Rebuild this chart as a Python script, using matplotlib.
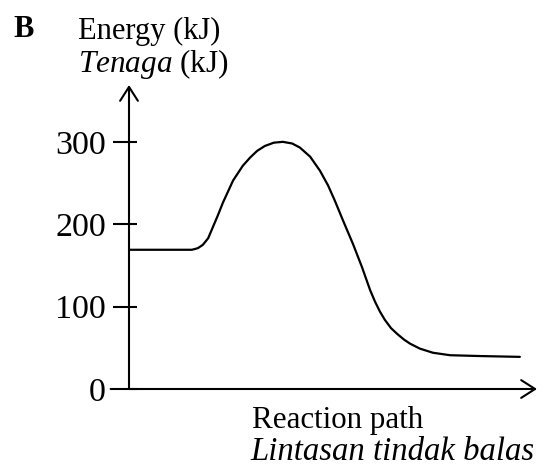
import matplotlib
matplotlib.use("Agg")
import matplotlib.pyplot as plt

# Energy profile (reaction path in arbitrary units)
path = [0.00, 0.76, 1.37, 1.54, 1.62, 1.69, 1.81, 1.94, 2.06, 2.18, 2.30,
        2.43, 2.55, 2.67, 2.79, 2.97, 3.14, 3.33, 3.55, 3.77, 4.00, 4.19,
        4.44, 4.68, 4.88, 5.05, 5.25, 5.49, 5.71, 5.91, 6.03, 6.15, 6.27,
        6.42, 6.57, 6.74, 6.89, 7.13, 7.45, 7.87, 8.60, 9.58]
energy = [169, 169, 169, 169, 170, 171, 175, 183, 197, 211, 226,
          240, 253, 262, 271, 281, 289, 295, 299, 300, 298, 293,
          282, 265, 247, 228, 204, 176, 148, 120, 106, 94, 84,
          74, 67, 60, 55, 49, 44, 41, 40, 39]
y_ticks = [0, 100, 200, 300]

plt.rcParams['font.family'] = ['Liberation Serif', 'DejaVu Serif']
plt.rcParams['mathtext.fontset'] = 'custom'
plt.rcParams['mathtext.rm'] = 'Liberation Serif'
plt.rcParams['mathtext.it'] = 'Liberation Serif:italic'

W, H = 548, 473
fig = plt.figure(figsize=(W / 100, H / 100), dpi=100)
# axes box in pixels: origin (129, 389), x arrow tip 537, y arrow tip 85
ax = fig.add_axes([129 / W, 1 - 389 / H, (537 - 129) / W, (389 - 85) / H])
ax.set_xlim(0, 10)
ax.set_ylim(0, 369)

ax.plot(path, energy, color='black', lw=1.6, solid_capstyle='round',
        solid_joinstyle='round')

for s in ax.spines.values():
    s.set_visible(False)

arrow = dict(arrowstyle='->,head_length=0.5,head_width=0.32', lw=1.5,
             color='black', mutation_scale=20, shrinkA=0, shrinkB=0)
ax.annotate('', xy=(0, 1), xytext=(0, 0), xycoords='axes fraction',
            arrowprops=arrow, annotation_clip=False)
ax.annotate('', xy=(1, 0), xytext=(-0.045, 0), xycoords='axes fraction',
            arrowprops=arrow, annotation_clip=False)

ax.set_xticks([])
ax.set_yticks(y_ticks)
ax.set_yticks(y_ticks, minor=True)
ax.yaxis.remove_overlapping_locs = False
ax.tick_params(axis='y', which='major', direction='out', length=11.5,
               width=1.5, pad=5, labelsize=24.5)
ax.tick_params(axis='y', which='minor', direction='in', length=6, width=1.5)
ax.get_yticklines()[0].set_visible(False)

def px(x, y):
    return x / W, 1 - y / H

fig.text(*px(13, 37), 'B', fontsize=22, fontweight='bold', va='baseline')
fig.text(*px(78, 39), 'Energy (kJ)', fontsize=22, va='baseline')
fig.text(*px(78, 72), r'$Tenaga$ (kJ)', fontsize=22.5, va='baseline')
fig.text(*px(252, 428), 'Reaction path', fontsize=22.3, va='baseline')
fig.text(*px(250, 460), 'Lintasan tindak balas', fontsize=23.6,
         style='italic', va='baseline')

fig.savefig('out.png', dpi=100)
